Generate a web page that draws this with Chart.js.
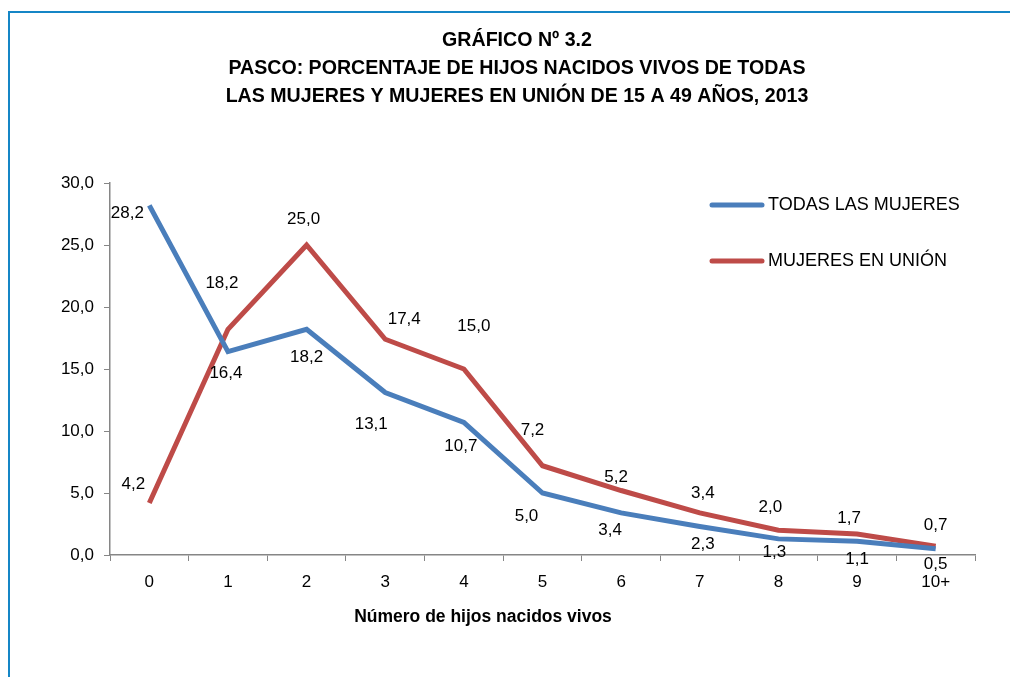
<!DOCTYPE html>
<html lang="es">
<head>
    <meta charset="UTF-8">
    <title>Gráfico 3.2</title>
    <style>
        body { margin: 0; background: #fff; }
        canvas { display: block; }
    </style>
</head>
<body>
    <canvas id="myChart" width="1010" height="677"></canvas>
    <script src="https://cdn.jsdelivr.net/npm/chart.js"></script>
<script>
    // categorías (número de hijos) y porcentajes
    const categorias = ['0', '1', '2', '3', '4', '5', '6', '7', '8', '9', '10+']
    const todasLasMujeres = [28.2, 16.4, 18.2, 13.1, 10.7, 5.0, 3.4, 2.3, 1.3, 1.1, 0.5]
    const mujeresEnUnion = [4.2, 18.2, 25.0, 17.4, 15.0, 7.2, 5.2, 3.4, 2.0, 1.7, 0.7]
    const ticksY = [0, 5, 10, 15, 20, 25, 30]

    const titulo = ['GRÁFICO Nº 3.2',
        'PASCO: PORCENTAJE DE HIJOS NACIDOS VIVOS DE TODAS',
        'LAS MUJERES Y MUJERES EN UNIÓN DE 15 A 49 AÑOS, 2013']

    // desplazamiento de las etiquetas (como en el original, puestas a mano)
    const offsetsAzul = [[-22, 8], [-2, 22], [0, 28], [-14, 32], [-3, 24], [-16, 23], [-11, 17], [3, 18], [-4, 13], [0, 18], [0, 16]]
    const offsetsRojo = [[-16, -19], [-6, -46], [-3, -26], [19, -20], [10, -43], [-10, -35], [-5, -13], [3, -20], [-8, -23], [-8, -16], [0, -21]]

    const FUENTE = '"Liberation Sans Narrow", "Arial Narrow", "Liberation Sans", Arial, sans-serif'
    const fmt = v => v.toFixed(1).replace('.', ',')

    const extras = {
        id: 'extras',
        beforeDraw(chart) {
            const c = chart.ctx
            c.save()
            c.strokeStyle = '#1586c6'
            c.lineWidth = 2
            c.beginPath()
            c.moveTo(9, chart.height)
            c.lineTo(9, 12)
            c.lineTo(chart.width, 12)
            c.stroke()
            // título (algo desplazado a la derecha, como el original)
            c.fillStyle = '#000'
            c.font = 'bold 20px ' + FUENTE
            c.textAlign = 'center'
            c.textBaseline = 'middle'
            titulo.forEach((t, i) => {
                c.save()
                c.translate(517, 40 + i * 28)
                c.scale(0.98, 1)
                c.fillText(t, 0, 0)
                c.restore()
            })
            c.restore()
        },
        afterDatasetsDraw(chart) {
            const c = chart.ctx
            c.save()
            c.font = '17px ' + FUENTE
            c.fillStyle = '#000'
            c.textAlign = 'center'
            c.textBaseline = 'middle'
            const offs = [offsetsAzul, offsetsRojo]
            chart.data.datasets.forEach((ds, d) => {
                chart.getDatasetMeta(d).data.forEach((p, i) => {
                    c.fillText(fmt(ds.data[i]), p.x + offs[d][i][0], p.y + offs[d][i][1])
                })
            })
            // leyenda
            const a = chart.chartArea
            c.font = '18px ' + FUENTE
            c.textAlign = 'left'
            c.lineCap = 'round'
            chart.data.datasets.forEach((ds, d) => {
                const y = a.top + 22 + d * 56
                c.strokeStyle = ds.borderColor
                c.lineWidth = 5
                c.beginPath()
                c.moveTo(712, y)
                c.lineTo(762, y)
                c.stroke()
                c.fillText(ds.label, 768, y)
            })
            // título del eje x
            c.font = 'bold 17.5px ' + FUENTE
            c.textAlign = 'center'
            c.fillText('Número de hijos nacidos vivos', 483, 617)
            c.restore()
        }
    }

    new Chart(document.getElementById('myChart'), {
        type: 'line',
        data: {
            labels: categorias,
            datasets: [{
                label: 'TODAS LAS MUJERES',
                data: todasLasMujeres,
                borderColor: '#4a7ebb',
                borderWidth: 5,
                pointRadius: 0,
                tension: 0
            }, {
                label: 'MUJERES EN UNIÓN',
                data: mujeresEnUnion,
                borderColor: '#be4b48',
                borderWidth: 5,
                pointRadius: 0,
                tension: 0
            }]
        },
        options: {
            responsive: false,
            animation: false,
            layout: { padding: { left: 10, right: 35, top: 183, bottom: 0 } },
            plugins: {
                legend: { display: false },
                tooltip: { enabled: false },
                title: { display: false }
            },
            scales: {
                x: {
                    offset: true,
                    grid: { offset: true, drawOnChartArea: false, tickLength: 6, color: '#868686', tickColor: '#868686' },
                    border: { color: '#868686', width: 1.5 },
                    ticks: { color: '#000', font: { family: FUENTE, size: 17 }, padding: 11, maxRotation: 0 },
                    afterFit(s) { s.height = 122 }
                },
                y: {
                    min: 0,
                    max: 30,
                    afterBuildTicks(s) { s.ticks = ticksY.map(v => ({ value: v })) },
                    grid: { drawOnChartArea: false, tickLength: 6, color: '#868686', tickColor: '#868686' },
                    border: { color: '#868686', width: 1.5 },
                    ticks: { color: '#000', font: { family: FUENTE, size: 17 }, padding: 10, callback: v => fmt(v) },
                    afterFit(s) { s.width = 100 }
                }
            }
        },
        plugins: [extras]
    })
</script>
</body>
</html>
